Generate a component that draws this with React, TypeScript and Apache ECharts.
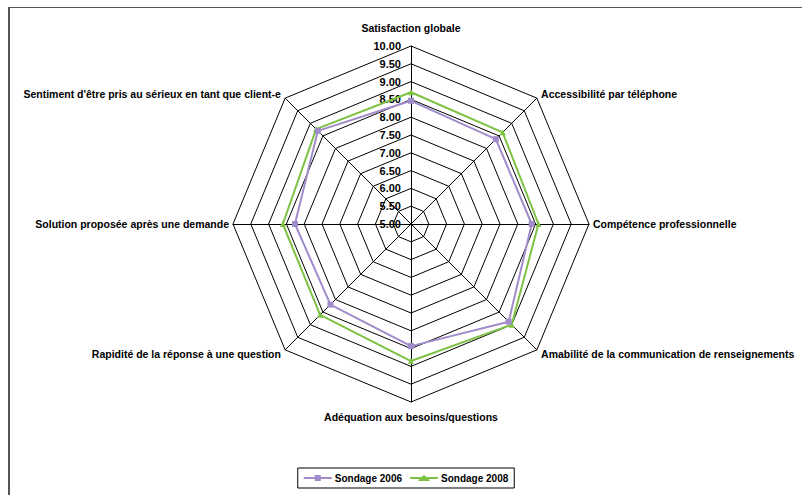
import React, { useEffect, useRef } from "react";
import * as echarts from "echarts";

// Categories in clockwise order starting from the top
const categories = [
  "Satisfaction globale",
  "Accessibilité par téléphone",
  "Compétence professionnelle",
  "Amabilité de la communication de renseignements",
  "Adéquation aux besoins/questions",
  "Rapidité de la réponse à une question",
  "Solution proposée après une demande",
  "Sentiment d'être pris au sérieux en tant que client-e",
];
const sondage2006 = [8.46, 8.37, 8.39, 8.88, 8.43, 8.2, 8.26, 8.7];
const sondage2008 = [8.7, 8.64, 8.58, 9.0, 8.85, 8.61, 8.6, 8.77];
const seriesNames = ["Sondage 2006", "Sondage 2008"];
const axisMin = 5;
const axisMax = 10;

// ECharts places indicators counter-clockwise: reorder to show them clockwise
const toCCW = <T,>(arr: T[]): T[] => [arr[0], ...arr.slice(1).reverse()];

// gap between each axis end and its name (clockwise order)
const nameGaps = [13, 6, 4, 6, 9, 6, 4, 6];

const ICON_SQUARE = "path://M0,2L11,2L11,0L17,0L17,2L28,2L28,4L17,4L17,6L11,6L11,4L0,4Z";
const ICON_TRIANGLE = "path://M0,2L11.6,2L14,0L16.4,2L28,2L28,4L18.5,4L20,6L8,6L9.5,4L0,4Z";

export default function App() {
  const ref = useRef<HTMLDivElement>(null);
  useEffect(() => {
    if (!ref.current) return;
    const chart = echarts.init(ref.current, undefined, { renderer: "svg" });
    const font = "'Liberation Sans', Arial, sans-serif";
    const names = toCCW(categories);
    const gaps = toCCW(nameGaps);
    chart.setOption({
      animation: false,
      legend: {
        data: [
          { name: seriesNames[0], icon: ICON_SQUARE },
          { name: seriesNames[1], icon: ICON_TRIANGLE },
        ],
        left: "center",
        top: 460,
        orient: "horizontal",
        borderColor: "#000",
        borderWidth: 1,
        borderRadius: 0,
        padding: [5, 6],
        itemGap: 8,
        itemWidth: 28,
        itemHeight: 6,
        textStyle: { fontFamily: font, fontWeight: "bold", fontSize: 10, color: "#000", padding: [0, 0, 0, -2] },
      },
      radar: {
        center: [401, 216],
        radius: 178,
        startAngle: 90,
        splitNumber: 10,
        shape: "polygon",
        nameGap: 6,
        axisName: {
          color: "#000",
          fontFamily: font,
          fontWeight: "bold",
          fontSize: 10.5,
        },
        axisLine: { lineStyle: { color: "#000", width: 1 } },
        splitLine: { lineStyle: { color: "#000", width: 1 } },
        splitArea: { show: false },
        axisTick: { show: false },
        axisLabel: { show: false },
        indicator: names.map((n, i) => ({
          name: n,
          min: axisMin,
          max: axisMax,
          nameGap: gaps[i],
          axisLabel:
            i === 0
              ? {
                  show: true,
                  color: "#000",
                  fontFamily: font,
                  fontWeight: "bold",
                  fontSize: 11,
                  margin: 10,
                  formatter: (v: number) => v.toFixed(2),
                }
              : { show: false },
        })),
      },
      series: [
        {
          type: "radar",
          name: seriesNames[0],
          symbol: "rect",
          symbolSize: 6,
          lineStyle: { color: "#a08ccb", width: 2 },
          itemStyle: { color: "#a08ccb" },
          data: [{ name: seriesNames[0], value: toCCW(sondage2006) }],
          z: 3,
        },
        {
          type: "radar",
          name: seriesNames[1],
          symbol: "triangle",
          symbolSize: 6,
          lineStyle: { color: "#7dc242", width: 2 },
          itemStyle: { color: "#7dc242" },
          data: [{ name: seriesNames[1], value: toCCW(sondage2008) }],
          z: 2,
        },
      ],
    });
    return () => chart.dispose();
  }, []);
  return (
    <div
      style={{
        position: "absolute",
        left: 8,
        top: 7,
        borderTop: "1px solid #555",
        borderLeft: "2px solid #555",
        background: "#fff",
      }}
    >
      <div ref={ref} style={{ width: 792, height: 487 }} />
    </div>
  );
}
